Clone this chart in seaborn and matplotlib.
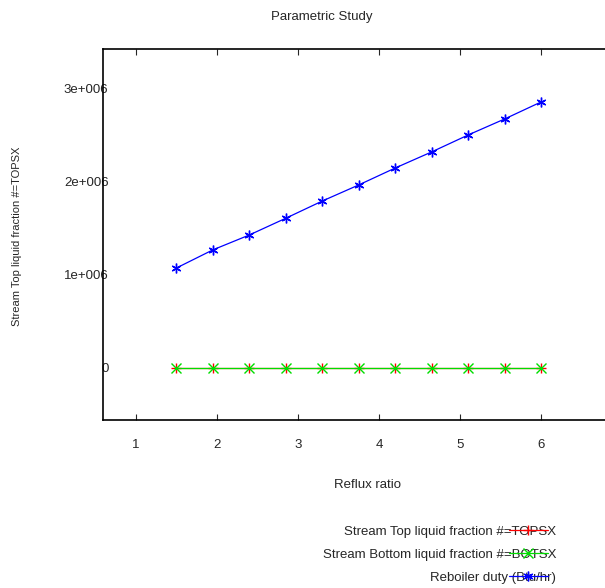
import matplotlib
matplotlib.use("Agg")
import matplotlib.pyplot as plt
import seaborn as sns
import pandas as pd

reflux_ratio = [1.5, 1.95, 2.4, 2.85, 3.3, 3.75, 4.2, 4.65, 5.1, 5.55, 6.0]
topsx = [0, 0, 0, 0, 0, 0, 0, 0, 0, 0, 0]
botsx = [0, 0, 0, 0, 0, 0, 0, 0, 0, 0, 0]
reboiler_duty = [1.075e6, 1.27e6, 1.43e6, 1.61e6, 1.795e6, 1.968e6,
                 2.15e6, 2.323e6, 2.505e6, 2.677e6, 2.86e6]
series_names = ["Stream Top liquid fraction #=TOPSX",
                "Stream Bottom liquid fraction #=BOTSX",
                "Reboiler duty (Btu/hr)"]
x_ticks = [1, 2, 3, 4, 5, 6]
y_ticks = [0, 1e6, 2e6, 3e6]
y_tick_labels = ["0", "1e+006", "2e+006", "3e+006"]

sns.set_style("white")
plt.rcParams['font.family'] = ['Liberation Sans', 'DejaVu Sans']

fig = plt.figure(figsize=(6.05, 5.88), dpi=100)
W, H = 605, 588
ax_left, ax_right, ax_top, ax_bottom = 103, 654, 49, 420
ax = fig.add_axes([ax_left / W, 1 - ax_bottom / H,
                   (ax_right - ax_left) / W, (ax_bottom - ax_top) / H])

colors = ["#ff0000", "#00dd00", "#0000ff"]
markers = ["+", "x", (6, 2, 0)]
data_sets = [topsx, botsx, reboiler_duty]
for vals, name, c, m in zip(data_sets, series_names, colors, markers):
    df = pd.DataFrame({"x": reflux_ratio, "y": vals})
    sns.lineplot(data=df, x="x", y="y", ax=ax, color=c, marker=m,
                 markersize=7, markeredgecolor=c, markeredgewidth=1.0,
                 linewidth=0.9, label=name)

ax.set_xlim(0.593, 7.395)
ax.set_ylim(-0.56e6, 3.43e6)
ax.set_xticks(x_ticks)
ax.set_xticklabels([str(t) for t in x_ticks], fontsize=9.5)
ax.set_yticks(y_ticks)
ax.set_yticklabels(y_tick_labels, fontsize=9.5)
ax.tick_params(axis="x", direction="in", length=4, top=True, bottom=True, pad=14)
ax.tick_params(axis="y", direction="in", length=0, pad=-4)
for lab in ax.get_yticklabels():
    lab.set_horizontalalignment("right")
for side in ["left", "bottom", "top"]:
    ax.spines[side].set_color("black")
    ax.spines[side].set_linewidth(1.2)
ax.spines["right"].set_visible(False)

ax.set_xlabel("")
ax.set_ylabel("")
fig.text(322 / W, 1 - 17 / H, "Parametric Study", ha="center", va="center", fontsize=9.5)
fig.text(367 / W, 1 - 485 / H, "Reflux ratio", ha="center", va="center", fontsize=9.5)
fig.text(17 / W, 1 - 236 / H, "Stream Top liquid fraction #=TOPSX", ha="center",
         va="center", rotation=90, fontsize=8)

leg = ax.legend(loc="upper right", bbox_to_anchor=(560 / W, 1 - 514 / H),
                bbox_transform=fig.transFigure, frameon=False, markerfirst=False,
                fontsize=9.5, handlelength=3.0, handletextpad=-3.6, labelspacing=0.8,
                alignment="right")

fig.savefig("out.png", dpi=100)
